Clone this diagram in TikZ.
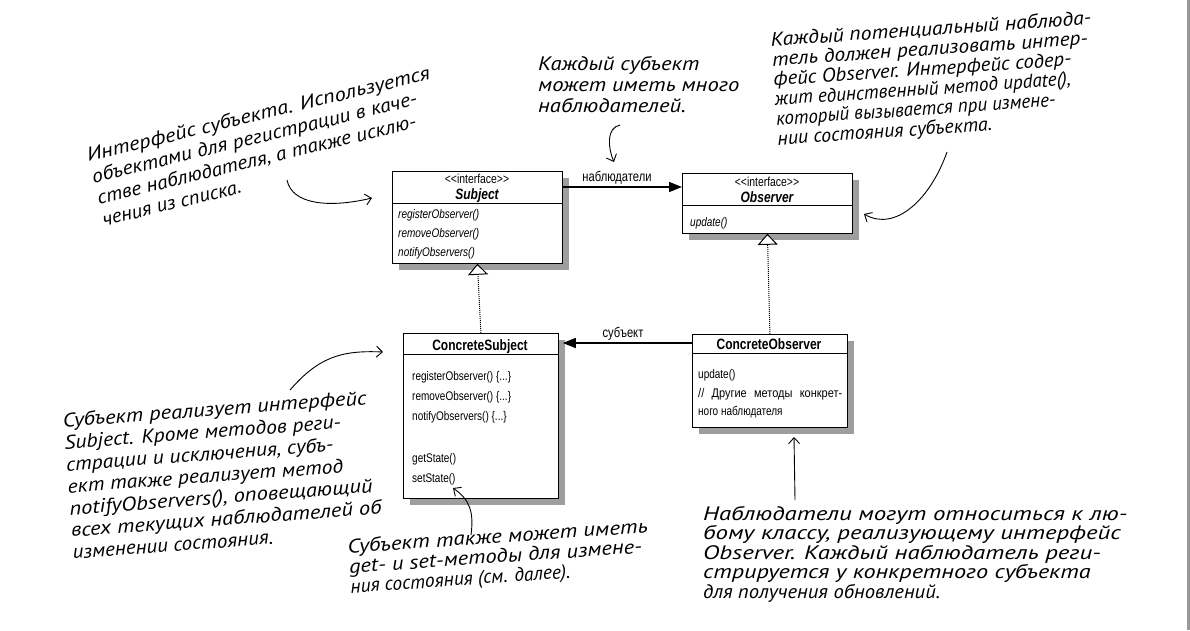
\documentclass[tikz,border=0pt]{standalone}
\usepackage{graphicx}
\usepackage{fontspec}
\setmainfont{Liberation Sans}
\newfontfamily\umlfont[FakeStretch=0.8]{Liberation Sans}
\newfontfamily\handfont[FakeStretch=1.16]{PT Sans}
\usetikzlibrary{arrows.meta,shadows,calc}
\newcommand{\sx}[2]{\scalebox{#1}[1]{#2}}
\tikzset{
  umlbox/.style={draw=black, line width=0.8pt, fill=white, inner sep=0pt, anchor=north west,
    drop shadow={shadow xshift=7pt, shadow yshift=-7pt, fill=black!38, opacity=1}},
  umltxt/.style={font=\umlfont\fontsize{12.5}{14}\selectfont, inner sep=0pt, anchor=base west},
  umlit/.style={umltxt, font=\umlfont\itshape\fontsize{12.5}{14}\selectfont},
  stereo/.style={font=\umlfont\fontsize{13}{14}\selectfont, inner sep=0pt, anchor=base},
  umltitle/.style={font=\umlfont\bfseries\fontsize{15}{17}\selectfont, inner sep=0pt, anchor=base},
  umlititle/.style={font=\umlfont\bfseries\itshape\fontsize{15}{17}\selectfont, inner sep=0pt, anchor=base},
  hand/.style={font=\handfont\itshape\fontsize{19.5}{21.5}\selectfont, align=left, inner sep=0pt, anchor=north west},
  note/.style={-{Straight Barb[length=6pt,width=11pt]}, line width=0.9pt},
  assoc/.style={-{Triangle[length=13pt,width=10pt]}, line width=1.6pt},
  real/.style={densely dotted, line width=1pt, -{Triangle[length=11pt,width=20pt,fill=white,line width=1pt]}},
  lbl/.style={font=\umlfont\fontsize{14}{16}\selectfont, inner sep=0pt, anchor=base}
}
\begin{document}
\begin{tikzpicture}[x=1pt,y=-1pt]
\useasboundingbox (0,0) rectangle (1190,630);
\fill[white] (0,0) rectangle (1190,630);
\fill[black!40] (1187,0) rectangle (1190,630);

% Subject
\node[umlbox, minimum width=170pt, minimum height=92pt] (subj) at (392,171) {};
\draw[line width=0.8pt] (392,203) -- (562,203);
\node[stereo] (subjst) at (477,183) {<<interface>>};
\node[umlititle] (subjt) at (477,199) {Subject};
\node[umlit] (subj1) at (398,218) {registerObserver()};
\node[umlit] (subj2) at (398,237) {removeObserver()};
\node[umlit] (subj3) at (398,256) {notifyObservers()};

% Observer
\node[umlbox, minimum width=170pt, minimum height=60pt] (obs) at (682,173) {};
\draw[line width=0.8pt] (682,205) -- (852,205);
\node[stereo] (obsst) at (767,186) {<<interface>>};
\node[umlititle] (obst) at (767,202) {Observer};
\node[umlit] (obs1) at (690,226) {update()};

% ConcreteSubject
\node[umlbox, minimum width=155pt, minimum height=165pt] (csubj) at (403,333) {};
\draw[line width=0.8pt] (403,354) -- (558,354);
\node[umltitle] (csubjt) at (480,350) {ConcreteSubject};
\node[umltxt] (cs1) at (412,380) {registerObserver() \{...\}};
\node[umltxt] (cs2) at (412,400) {removeObserver() \{...\}};
\node[umltxt] (cs3) at (412,420) {notifyObservers() \{...\}};
\node[umltxt] (cs4) at (412,462) {getState()};
\node[umltxt] (cs5) at (412,482) {setState()};

% ConcreteObserver
\node[umlbox, minimum width=155pt, minimum height=93pt] (cobs) at (692,334) {};
\draw[line width=0.8pt] (692,353) -- (847,353);
\node[umltitle] (cobst) at (769,349) {ConcreteObserver};
\node[umltxt] (co1) at (698,378) {update()};
\node[umltxt] (co2) at (698,397) {\sx{1.1}{\makebox[131pt][s]{// Другие методы конкрет-}}};
\node[umltxt] (co3) at (698,415) {ного наблюдателя};

% connectors
\draw[assoc] ([yshift=-16pt]subj.north east) -- ([yshift=-14pt]obs.north west);
\node[lbl] (lobs) at (617,181) {наблюдатели};
\draw[assoc] ([yshift=-9pt]cobs.north west) -- ([yshift=-10pt,xshift=4pt]csubj.north east);
\node[lbl] (lsubj) at (623,337) {субъект};
\draw[real] (csubj.north) -- (subj.south);
\draw[real] (cobs.north) -- (obs.south);

% annotations
\node[hand, rotate=13.6, font=\handfont\itshape\fontsize{19.5}{22}\selectfont] (n1) at (85,148) {\sx{0.99}{Интерфейс субъекта. Используется}\\\sx{0.95}{объектами для регистрации в каче-}\\\sx{0.94}{стве наблюдателя, а также исклю-}\\\sx{0.91}{чения из списка.}};
\coordinate (n1s) at (287,180);
\coordinate (n1e) at (372,198);
\draw[note] (n1s) .. controls (292,205) and (330,208) .. (n1e);

\node[hand, font=\handfont\itshape\fontsize{19.5}{21}\selectfont] (n2) at (538,56) {Каждый субъект\\может иметь много\\наблюдателей.};
\coordinate (n2s) at (620,125);
\coordinate (n2e) at (614,162);
\draw[note] (n2s) .. controls (606,128) and (608,148) .. (n2e);

\node[hand, rotate=3.9, font=\handfont\itshape\fontsize{19.5}{19.8}\selectfont] (n3) at (770,32) {\sx{0.96}{Каждый потенциальный наблюда-}\\\sx{0.95}{тель должен реализовать интер-}\\\sx{0.92}{фейс Observer. Интерфейс содер-}\\\sx{0.85}{жит единственный метод update(),}\\\sx{0.84}{который вызывается при измене-}\\\sx{0.88}{нии состояния субъекта.}};
\coordinate (n3s) at (947,152);
\coordinate (n3e) at (864,214);
\draw[note] (n3s) .. controls (930,200) and (895,232) .. (n3e);

\node[hand, rotate=4.3, font=\handfont\itshape\fontsize{19.5}{22}\selectfont] (n4) at (62,413) {Субъект реализует интерфейс\\\sx{0.96}{Subject. Кроме методов реги-}\\\sx{0.96}{страции и исключения, субъ-}\\\sx{0.96}{ект также реализует метод}\\notifyObservers(), оповещающий\\всех текущих наблюдателей об\\\sx{0.93}{изменении состояния.}};
\coordinate (n4s) at (290,390);
\coordinate (n4e) at (383,352);
\draw[note] (n4s) .. controls (318,358) and (340,350) .. (n4e);

\node[hand, rotate=4, font=\handfont\itshape\fontsize{19.5}{20}\selectfont] (n5) at (347,539) {\sx{1.02}{Субъект также может иметь}\\get- и set-методы для измене-\\\sx{0.86}{ния состояния (см. далее).}};
\coordinate (n5s) at (471,535);
\coordinate (n5e) at (453,488);
\draw[note] (n5s) .. controls (474,512) and (470,500) .. (n5e);

\node[hand, font=\handfont\itshape\fontsize{19.5}{19.5}\selectfont] (n6) at (703,506) {\sx{1.1}{Наблюдатели могут относиться к лю-}\\\sx{1.1}{бому классу, реализующему интерфейс}\\\sx{1.1}{Observer. Каждый наблюдатель реги-}\\\sx{1.07}{стрируется у конкретного субъекта}\\\sx{0.91}{для получения обновлений.}};
\coordinate (n6s) at (795,500);
\coordinate (n6e) at (794,437);
\draw[note] (n6s) -- (n6e);
\end{tikzpicture}
\end{document}
